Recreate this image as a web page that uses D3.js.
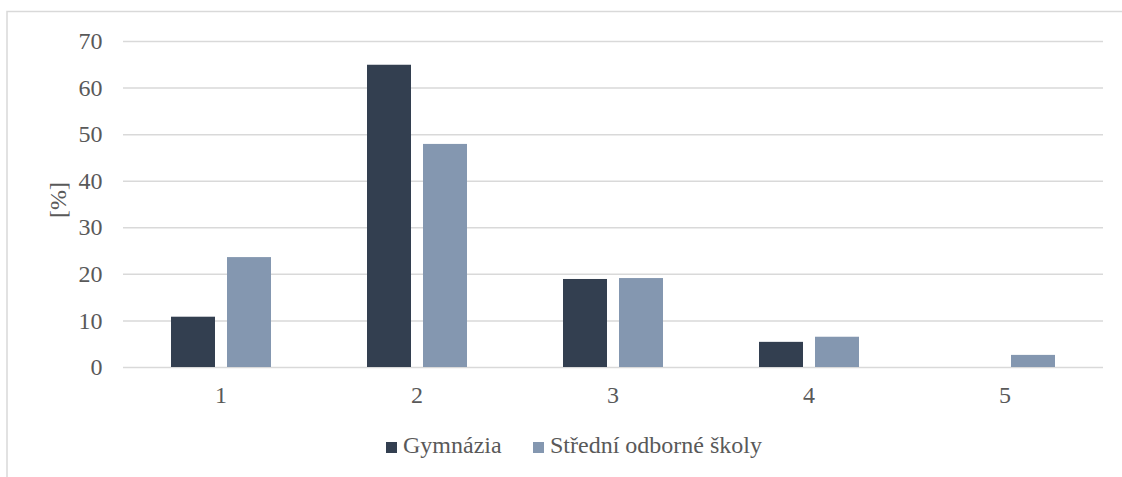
<html>
<head>
<meta charset="utf-8">
<script src="https://d3js.org/d3.v7.min.js"></script>
<style>
  body { margin: 0; background: #fff; }
  text { font-family: "Liberation Serif", "DejaVu Serif", serif; fill: #595959; }
</style>
</head>
<body>
<script>
  // data
  let categories = ["1", "2", "3", "4", "5"];
  let seriesNames = ["Gymnázia", "Střední odborné školy"];
  let gymnazia = [10.8, 64.9, 18.9, 5.4, 0];
  let sos = [23.6, 47.9, 19.1, 6.5, 2.6];
  let yTicks = [0, 10, 20, 30, 40, 50, 60, 70];
  let colors = ["#333f50", "#8497b0"];

  let width = 1122, height = 477;
  let margin = {left: 123, right: 19, top: 41, bottom: 110};
  let fontSize = 24;

  let svg = d3.select("body").append("svg")
      .attr("width", width)
      .attr("height", height);

  // outer chart frame (cropped on the right and bottom)
  svg.append("rect")
    .attr("x", 7).attr("y", 11.5)
    .attr("width", width + 20).attr("height", height + 20)
    .attr("fill", "none")
    .attr("stroke", "#d9d9d9")
    .attr("stroke-width", 1.5);

  let x = d3.scaleBand()
      .domain(categories)
      .range([margin.left, width - margin.right]);

  let inner = d3.scaleBand()
      .domain(seriesNames)
      .range([48, x.bandwidth() - 48])
      .paddingInner(12 / 56);

  let y = d3.scaleLinear()
      .domain([0, 70])
      .range([367, 41]);

  //gridlines and tick labels
  let yAxis = svg.append("g")
      .attr("transform", `translate(${margin.left},0)`)
      .call(d3.axisLeft(y).tickValues(yTicks).tickSize(-(width - margin.left - margin.right)).tickPadding(20.5));
  yAxis.attr("font-family", null);
  yAxis.select(".domain").remove();
  yAxis.selectAll(".tick line").attr("stroke", "#d9d9d9").attr("stroke-width", 1.5);
  yAxis.selectAll(".tick text")
    .attr("font-size", fontSize)
    .attr("fill", "#595959");

  //x labels
  let xAxis = svg.append("g")
      .attr("transform", `translate(0,${y(0)})`)
      .call(d3.axisBottom(x).tickSize(0).tickPadding(19));
  xAxis.attr("font-family", null);
  xAxis.select(".domain").remove();
  xAxis.selectAll(".tick text")
    .attr("font-size", fontSize)
    .attr("fill", "#595959");

  //bars
  let values = [gymnazia, sos];
  seriesNames.forEach((name, s) => {
    svg.append("g").selectAll("rect")
      .data(categories)
      .join("rect")
      .attr("x", (c) => x(c) + inner(name))
      .attr("width", inner.bandwidth())
      .attr("y", (c, i) => y(values[s][i]))
      .attr("height", (c, i) => y(0) - y(values[s][i]))
      .attr("fill", colors[s]);
  });

  //y axis title
  svg.append("text")
    .attr("transform", "translate(66,200) rotate(-90)")
    .attr("text-anchor", "middle")
    .attr("font-size", fontSize)
    .text("[%]");

  //legend
  let legendX = [386, 533];
  seriesNames.forEach((name, s) => {
    svg.append("rect")
      .attr("x", legendX[s]).attr("y", 442)
      .attr("width", 11).attr("height", 11)
      .attr("fill", colors[s]);
    svg.append("text")
      .attr("x", legendX[s] + 17)
      .attr("y", 453)
      .attr("font-size", fontSize)
      .text(name);
  });
</script>
</body>
</html>
